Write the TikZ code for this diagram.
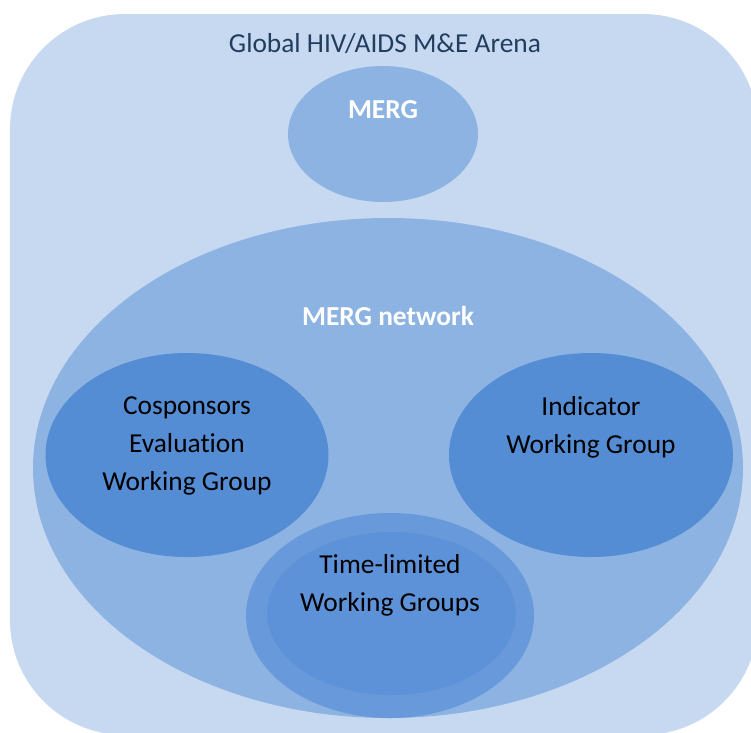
\documentclass[tikz,border=0pt]{standalone}
\usepackage{fontspec}
\setmainfont{Carlito}[Ligatures=NoCommon]
\usetikzlibrary{shapes.geometric}
\definecolor{arena}{HTML}{C6D9F0}
\definecolor{mid}{HTML}{8DB3E2}
\definecolor{deep}{HTML}{548DD4}
\definecolor{ring}{HTML}{6899DA}
\definecolor{core}{HTML}{5D92D8}
\definecolor{titlecol}{HTML}{233D5E}
\tikzset{
  blob/.style={ellipse, inner sep=0pt, draw=none},
  lbl/.style={font=\fontsize{27.4}{38}\selectfont, align=center, text=black, inner sep=0pt},
  wlbl/.style={font=\fontsize{27.4}{38}\selectfont\bfseries, text=white, inner sep=0pt}
}
\begin{document}
\begin{tikzpicture}[x=1pt,y=-1pt]
\useasboundingbox (0,0) rectangle (751,732);
\clip (0,0) rectangle (751,732);
\fill[arena, rounded corners=115pt] (10,14) rectangle (758,735);
\node[lbl, text=titlecol] (title) at (385,44) {Global HIV/AIDS M\&E Arena};
\node[blob, fill=mid, minimum width=190pt, minimum height=136pt] (merg) at (383,134) {};
\node[wlbl] (mergtxt) at (383,110) {MERG};
\node[blob, fill=mid, minimum width=710pt, minimum height=500pt] (net) at (388,468) {};
\node[wlbl] (nettxt) at (388,316) {MERG network};
\node[blob, fill=deep, minimum width=283pt, minimum height=204pt] (cos) at (187,455) {};
\node[lbl] (costxt) at (187,446) {Cosponsors\\Evaluation\\Working Group};
\node[blob, fill=deep, minimum width=284pt, minimum height=204pt] (ind) at (591,455) {};
\node[lbl] (indtxt) at (591,427) {Indicator\\Working Group};
\node[blob, fill=ring, minimum width=288pt, minimum height=205pt] (tlo) at (390,615.5) {};
\node[blob, fill=core, minimum width=249pt, minimum height=163pt] (tli) at (391.5,613.5) {};
\node[lbl] (tltxt) at (390,585) {Time-limited\\Working Groups};
\end{tikzpicture}
\end{document}
